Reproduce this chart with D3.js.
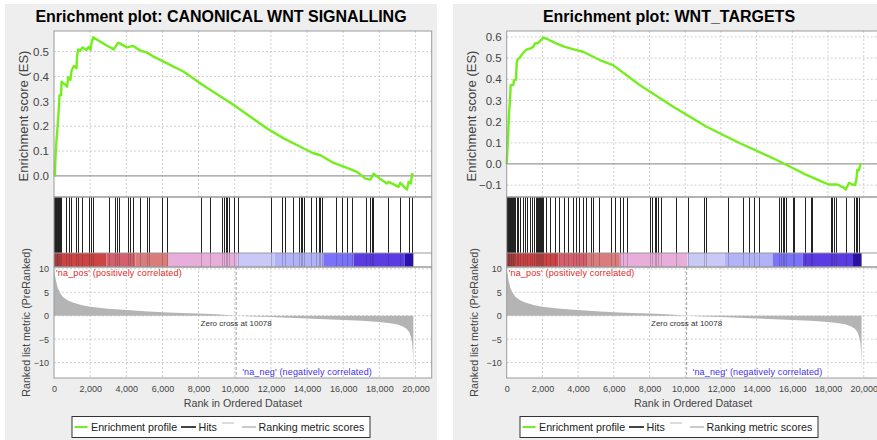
<!DOCTYPE html>
<html>
<head>
<meta charset="utf-8">
<script src="https://cdn.jsdelivr.net/npm/d3@7"></script>
<style>
  html, body { margin: 0; padding: 0; background: #fff; }
  svg { display: block; font-family: 'Liberation Sans', Arial, sans-serif; }
</style>
</head>
<body>
<svg id="chart" width="877" height="440"></svg>
<script>
/* GSEA enrichment plots — two gene sets on the same pre-ranked list */

const RANK_MAX = 20895;      // x axis upper bound (auto range of the plot)
const N_GENES = 19880;
const ZERO_CROSS = 10078;

const xTicks = [0, 2000, 4000, 6000, 8000, 10000, 12000, 14000, 16000, 18000, 20000];
const metricTicks = [10, 5, 0, -5, -10];
const metricDomain = [-13.3, 10.4];

const titles = ['Enrichment plot: CANONICAL WNT SIGNALLING', 'Enrichment plot: WNT_TARGETS'];

// running enrichment score, [rank, ES]
const wntES = [
  [0, 0], [46, 0.0], [83, 0.077], [138, 0.144], [212, 0.211], [267, 0.272], [304, 0.325], [396, 0.325],
  [415, 0.379], [636, 0.366], [728, 0.359], [783, 0.397], [912, 0.386], [968, 0.423], [1097, 0.442],
  [1244, 0.433], [1281, 0.487], [1336, 0.509], [1465, 0.504], [1576, 0.517], [1797, 0.507], [1926, 0.52],
  [2018, 0.507], [2073, 0.534], [2166, 0.558], [2571, 0.54], [3032, 0.52], [3308, 0.509], [3548, 0.536],
  [4045, 0.517], [4377, 0.523], [4783, 0.504], [5151, 0.496], [5428, 0.483], [6257, 0.453], [7179, 0.419],
  [8100, 0.372], [9943, 0.285], [11786, 0.191], [12707, 0.151], [13629, 0.117], [14274, 0.093],
  [14735, 0.083], [15472, 0.052], [16209, 0.032], [16762, 0.016], [17223, -0.011], [17499, -0.015],
  [17683, 0.009], [18052, -0.013], [18421, -0.031], [18513, -0.024], [19066, -0.044], [19158, -0.028],
  [19527, -0.055], [19619, -0.024], [19748, -0.031], [19803, 0.007], [19880, 0.004]
];

const targetsES = [
  [0, 0.0], [37, 0.06], [93, 0.161], [130, 0.24], [186, 0.302], [223, 0.373], [372, 0.373], [410, 0.397],
  [521, 0.397], [559, 0.475], [614, 0.494], [745, 0.503], [894, 0.522], [1024, 0.534], [1154, 0.542],
  [1303, 0.545], [1490, 0.553], [1583, 0.569], [1769, 0.572], [1862, 0.58], [2048, 0.597], [2328, 0.588],
  [2700, 0.572], [3259, 0.553], [3910, 0.538], [4283, 0.53], [5214, 0.491], [5958, 0.467], [7448, 0.373],
  [9310, 0.271], [11172, 0.177], [13034, 0.099], [14896, 0.028], [15827, -0.011], [16758, -0.05],
  [17689, -0.085], [18061, -0.097], [18527, -0.097], [18899, -0.113], [18992, -0.121], [19179, -0.089],
  [19365, -0.097], [19514, -0.1], [19588, -0.074], [19644, -0.027], [19737, -0.03], [19830, 0.005]
];

// rank positions of gene set members
const wntHits = [
  20, 60, 100, 140, 180, 230, 290, 340, 390, 691, 820, 968, 1244, 1336, 1557, 1926, 2073, 2147, 3069,
  3400, 3492, 3585, 4082, 4230, 4377, 4783, 5151, 5243, 5981, 6257, 8155, 8653, 9298, 9427, 9501, 9574,
  9666, 9943, 10164, 12007, 12615, 12799, 13205, 13573, 13647, 13721, 13850, 14219, 14514, 14643, 14735,
  14827, 15619, 15933, 16209, 16486, 17278, 17499, 17573, 17647, 18458, 19158, 19619, 19803
];

const targetsHits = [
  20, 50, 80, 112, 150, 186, 223, 261, 300, 335, 372, 410, 484, 559, 652, 745, 894, 1024, 1154, 1303,
  1397, 1545, 1620, 1676, 1769, 1825, 1881, 1937, 1992, 2048, 2197, 2421, 2700, 2942, 3203, 3426, 3687,
  3873, 4059, 4283, 4469, 4748, 4841, 5176, 5865, 6089, 6331, 6517, 6759, 8007, 8156, 8286, 8379, 8472,
  8659, 9496, 10148, 11042, 11172, 12401, 13258, 13556, 13872, 14151, 15268, 15362, 15455, 15548, 15641,
  16013, 16107, 16721, 17038, 17094, 18155, 18248, 18341, 18434, 19030, 19458, 19551, 19644, 19737
];

// ranked list metric, [rank, value]
const rankedMetric = [
  [0, 9.8], [40, 9.0], [100, 7.6], [200, 6.0], [350, 4.8], [500, 4.0], [750, 3.3], [1000, 2.9],
  [1500, 2.3], [2000, 1.9], [3000, 1.5], [4000, 1.2], [5000, 0.95], [6000, 0.75], [7000, 0.6],
  [8000, 0.45], [9000, 0.3], [10078, 0], [11000, -0.15], [12000, -0.3], [13000, -0.45], [14000, -0.6],
  [15000, -0.75], [16000, -0.9], [17000, -1.1], [18000, -1.35], [18600, -1.6], [19000, -1.9],
  [19300, -2.3], [19500, -2.8], [19650, -3.5], [19750, -4.5], [19820, -6], [19860, -8.5], [19880, -12.5]
];

// heat bar under the hits: band start ranks and colours
const barStarts = [0, 2900, 4500, 6340, 10130, 12200, 14900, 16580, 19400];
const barColors = ['#cc4444', '#d4606e', '#da7c7c', '#e8aedb', '#c9c9f8', '#b2b2f8', '#7a72f8', '#5a3ce2', '#2a10b0'];

const PANELS = [
  { x: 5,   w: 432, plotL: 54,    plotR: 431.7, esDomain: [-0.085, 0.583], esTicks: [0, 0.1, 0.2, 0.3, 0.4, 0.5],
    title: titles[0], es: wntES, hits: wntHits },
  { x: 453, w: 432, plotL: 506.7, plotR: 879.7, esDomain: [-0.156, 0.628], esTicks: [-0.1, 0, 0.1, 0.2, 0.3, 0.4, 0.5, 0.6],
    title: titles[1], es: targetsES, hits: targetsHits }
];

const TOP = 31, ES_BOTTOM = 197, HITS_BOTTOM = 253, BAR_BOTTOM = 267, RANK_BOTTOM = 378;
const GRID = '#cfcfcf', FRAME = '#9a9a9a', TEXT = '#444';

const svg = d3.select('#chart');

PANELS.forEach(drawPanel);

function gridDash(sel) {
  return sel.attr('stroke', GRID).attr('stroke-width', 1).attr('stroke-dasharray', '2,2');
}

function drawPanel(p) {
  const g = svg.append('g');
  const x = d3.scaleLinear().domain([0, RANK_MAX]).range([p.plotL, p.plotR]);
  const yES = d3.scaleLinear().domain(p.esDomain).range([ES_BOTTOM, TOP]);
  const yM = d3.scaleLinear().domain(metricDomain).range([RANK_BOTTOM, BAR_BOTTOM]);
  const w = p.plotR - p.plotL;

  g.append('rect').attr('x', p.x).attr('y', 4).attr('width', p.w).attr('height', 436).attr('fill', '#eeeeee');
  g.append('rect').attr('x', p.plotL).attr('y', TOP).attr('width', w).attr('height', RANK_BOTTOM - TOP).attr('fill', '#fff');

  g.append('text')
    .attr('x', p.x + p.w / 2).attr('y', 22)
    .attr('text-anchor', 'middle').attr('font-size', 16).attr('font-weight', 'bold').attr('fill', '#000')
    .text(p.title);

  // ES subplot
  g.append('g').selectAll('line').data(xTicks.slice(1)).join('line')
    .attr('x1', d => x(d)).attr('x2', d => x(d)).attr('y1', TOP).attr('y2', ES_BOTTOM).call(gridDash);
  g.append('g').selectAll('line').data(p.esTicks.filter(d => d !== 0)).join('line')
    .attr('x1', p.plotL).attr('x2', p.plotR).attr('y1', d => yES(d)).attr('y2', d => yES(d)).call(gridDash);
  g.append('line').attr('x1', p.plotL).attr('x2', p.plotR).attr('y1', yES(0)).attr('y2', yES(0))
    .attr('stroke', '#999').attr('stroke-width', 1.3);

  const esLine = d3.line().x(d => x(d[0])).y(d => yES(d[1]));
  g.append('path').datum(p.es).attr('d', esLine)
    .attr('fill', 'none').attr('stroke', '#74ee1e').attr('stroke-width', 2.4).attr('stroke-linejoin', 'round');

  // hits + heat bar
  g.append('g').selectAll('line').data(p.hits).join('line')
    .attr('x1', d => Math.round(x(d)) + 0.5).attr('x2', d => Math.round(x(d)) + 0.5)
    .attr('y1', ES_BOTTOM).attr('y2', HITS_BOTTOM)
    .attr('stroke', '#222').attr('stroke-width', 1);

  const bands = barStarts.map((s, i) => ({ s, e: i < barStarts.length - 1 ? barStarts[i + 1] : N_GENES, c: barColors[i] }));
  g.append('g').selectAll('rect').data(bands).join('rect')
    .attr('x', d => x(d.s)).attr('width', d => x(d.e) - x(d.s))
    .attr('y', HITS_BOTTOM).attr('height', BAR_BOTTOM - HITS_BOTTOM)
    .attr('fill', d => d.c);
  g.append('g').selectAll('line').data(p.hits).join('line')
    .attr('x1', d => Math.round(x(d)) + 0.5).attr('x2', d => Math.round(x(d)) + 0.5)
    .attr('y1', HITS_BOTTOM).attr('y2', BAR_BOTTOM)
    .attr('stroke', '#222').attr('stroke-opacity', 0.22).attr('stroke-width', 1);

  // ranked list subplot
  g.append('g').selectAll('line').data(xTicks.slice(1)).join('line')
    .attr('x1', d => x(d)).attr('x2', d => x(d)).attr('y1', BAR_BOTTOM).attr('y2', RANK_BOTTOM).call(gridDash);
  g.append('g').selectAll('line').data(metricTicks).join('line')
    .attr('x1', p.plotL).attr('x2', p.plotR).attr('y1', d => yM(d)).attr('y2', d => yM(d)).call(gridDash);

  const area = d3.area().x(d => x(d[0])).y0(yM(0)).y1(d => yM(d[1]));
  g.append('path').datum(rankedMetric).attr('d', area).attr('fill', '#b4b4b4');

  g.append('line').attr('x1', x(ZERO_CROSS)).attr('x2', x(ZERO_CROSS)).attr('y1', BAR_BOTTOM).attr('y2', RANK_BOTTOM)
    .attr('stroke', '#a0a0a0').attr('stroke-width', 1).attr('stroke-dasharray', '3,2');

  g.append('text').attr('x', x(ZERO_CROSS)).attr('y', 325.5).attr('text-anchor', 'middle')
    .attr('font-size', 8).attr('fill', '#333').text('Zero cross at ' + ZERO_CROSS);
  g.append('text').attr('x', p.plotL + 2).attr('y', 275.5)
    .attr('font-size', 9).attr('letter-spacing', 0.15).attr('fill', '#e02a2a').text("'na_pos' (positively correlated)");
  g.append('text').attr('x', x(ZERO_CROSS) + 6).attr('y', 375)
    .attr('font-size', 9).attr('letter-spacing', 0.15).attr('fill', '#3f30ea').text("'na_neg' (negatively correlated)");

  // frames
  [[TOP, ES_BOTTOM], [ES_BOTTOM, BAR_BOTTOM], [BAR_BOTTOM, RANK_BOTTOM]].forEach(([a, b]) => {
    g.append('rect').attr('x', p.plotL).attr('y', a).attr('width', w).attr('height', b - a)
      .attr('fill', 'none').attr('stroke', FRAME).attr('stroke-width', 1);
  });
  g.append('line').attr('x1', p.plotL).attr('x2', p.plotR).attr('y1', HITS_BOTTOM).attr('y2', HITS_BOTTOM)
    .attr('stroke', FRAME).attr('stroke-width', 1);

  // axes
  const esAxis = g.append('g').attr('transform', `translate(${p.plotL},0)`)
    .call(d3.axisLeft(yES).tickValues(p.esTicks).tickFormat(d3.format('.1f')).tickSize(0).tickPadding(5));
  esAxis.select('.domain').remove();
  esAxis.selectAll('text').attr('font-size', 11.5).attr('fill', TEXT).attr('font-family', null);

  const mAxis = g.append('g').attr('transform', `translate(${p.plotL},0)`)
    .call(d3.axisLeft(yM).tickValues(metricTicks).tickFormat(d3.format('d')).tickSize(0).tickPadding(5));
  mAxis.select('.domain').remove();
  mAxis.selectAll('text').attr('font-size', 9).attr('fill', TEXT).attr('font-family', null);

  const xAxis = g.append('g').attr('transform', `translate(0,${RANK_BOTTOM})`)
    .call(d3.axisBottom(x).tickValues(xTicks).tickFormat(d3.format(',')).tickSize(0).tickPadding(8));
  xAxis.select('.domain').remove();
  xAxis.selectAll('text').attr('font-size', 9).attr('fill', TEXT).attr('font-family', null);

  g.append('text').attr('x', (p.plotL + p.plotR) / 2).attr('y', 407).attr('text-anchor', 'middle')
    .attr('font-size', 10.7).attr('fill', TEXT).text('Rank in Ordered Dataset');
  g.append('text').attr('transform', `translate(${p.x + 23},${(TOP + ES_BOTTOM) / 2 + 2}) rotate(-90)`).attr('text-anchor', 'middle')
    .attr('font-size', 13).attr('fill', TEXT).text('Enrichment score (ES)');
  g.append('text').attr('transform', `translate(${p.x + 25},${(BAR_BOTTOM + RANK_BOTTOM) / 2}) rotate(-90)`).attr('text-anchor', 'middle')
    .attr('font-size', 10.7).attr('fill', TEXT).text('Ranked list metric (PreRanked)');

  drawLegend(g, p.x + p.w / 2 - 149, 416.5);
}

function drawLegend(g, lx, ly) {
  const h = 21, cy = ly + h / 2;
  g.append('rect').attr('x', lx).attr('y', ly).attr('width', 298).attr('height', h)
    .attr('fill', '#fff').attr('stroke', '#333').attr('stroke-width', 1);
  const items = [
    { x0: 2.5, x1: 15.5, dy: 0, c: '#74ee1e', label: 'Enrichment profile', tx: 19 },
    { x0: 109, x1: 124, dy: 0, c: '#444', label: 'Hits', tx: 126.5 },
    { x0: 150, x1: 162, dy: -4, c: '#dcdcdc', label: '', tx: 0 },
    { x0: 170, x1: 184, dy: 0, c: '#cacaca', label: 'Ranking metric scores', tx: 186.5 }
  ];
  items.forEach(it => {
    g.append('line').attr('x1', lx + it.x0).attr('x2', lx + it.x1).attr('y1', cy + it.dy).attr('y2', cy + it.dy)
      .attr('stroke', it.c).attr('stroke-width', 2);
    if (it.label) {
      g.append('text').attr('x', lx + it.tx).attr('y', cy + 4).attr('font-size', 10.7).attr('fill', '#222').text(it.label);
    }
  });
}
</script>
</body>
</html>
